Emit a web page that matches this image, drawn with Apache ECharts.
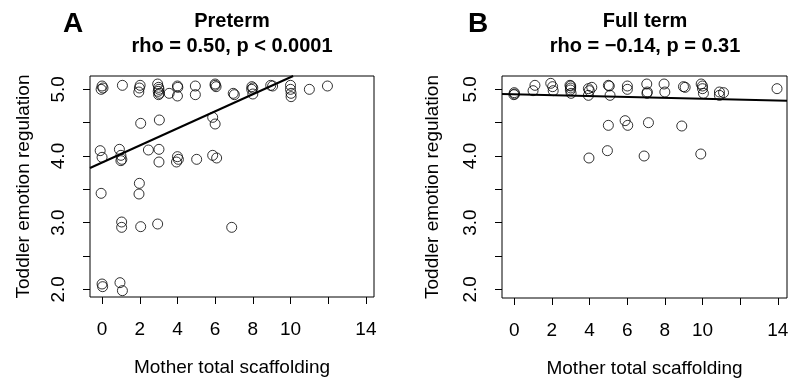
<!DOCTYPE html>
<html>
<head>
<meta charset="utf-8">
<script src="https://cdn.jsdelivr.net/npm/echarts@6/dist/echarts.min.js"></script>
<style>
html,body{margin:0;padding:0;background:#fff;}
#chart{width:800px;height:384px;}
</style>
</head>
<body>
<div id="chart"></div>
<script>
// ---- data ----
const xTicks = [0, 2, 4, 6, 8, 10, 12, 14];
const xLabels = [0, 2, 4, 6, 8, 10, 14];
const yTicks = [2, 2.5, 3, 3.5, 4, 4.5, 5];
const yLabels = [2, 3, 4, 5];

const pretermPoints = [
  [0, 5.05], [0.05, 5.02], [-0.05, 5.0], [-0.1, 4.08], [0, 3.98], [-0.05, 3.44], [0, 2.08], [0.03, 2.04],
  [1.08, 5.06], [0.92, 4.1], [1.0, 4.01], [1.05, 3.95], [1.0, 3.93], [1.04, 3.01], [1.04, 2.93], [0.95, 2.1], [1.08, 1.98],
  [2.02, 5.06], [1.98, 5.02], [1.95, 4.96], [2.05, 4.49], [2.46, 4.09], [1.98, 3.59], [1.96, 3.43], [2.05, 2.94],
  [2.95, 5.08], [3.0, 5.03], [3.02, 5.0], [2.98, 4.97], [3.04, 4.94], [3.0, 4.92], [3.04, 4.54], [3.02, 4.1], [3.02, 3.91], [2.95, 2.98],
  [3.56, 4.94],
  [4.0, 5.05], [4.02, 5.03], [4.0, 4.9], [4.0, 3.99], [4.05, 3.95], [3.95, 3.91],
  [4.95, 5.05], [4.95, 4.92], [5.02, 3.95],
  [6.0, 5.08], [6.0, 5.06], [6.05, 5.04], [5.87, 4.58], [6.0, 4.48], [5.87, 4.01], [6.08, 3.97],
  [6.96, 4.94], [7.02, 4.92], [6.88, 2.93],
  [7.95, 5.04], [8.0, 5.02], [7.94, 5.0], [8.0, 4.93],
  [8.95, 5.06], [9.05, 5.05],
  [10.0, 5.06], [10.0, 5.0], [10.03, 4.94], [10.03, 4.89],
  [11.0, 5.0], [11.96, 5.05]
];
const pretermLine = [[-0.64, 3.82], [10.14, 5.2]];

const fulltermPoints = [
  [0, 4.95], [0.02, 4.93], [-0.02, 4.92],
  [1.0, 4.98], [1.1, 5.06],
  [1.94, 5.09], [2.04, 5.04], [2.07, 4.98],
  [2.96, 5.06], [3.0, 5.05], [2.98, 4.99], [3.02, 4.94], [3.0, 5.02],
  [3.94, 5.01], [3.99, 4.98], [3.94, 4.91], [4.12, 5.03],
  [5.0, 5.06], [5.05, 5.05], [5.09, 4.91],
  [6.01, 5.05], [6.01, 5.0],
  [7.04, 5.08], [7.07, 4.96], [7.05, 4.94],
  [7.96, 5.08], [8.0, 4.96],
  [8.99, 5.04], [9.08, 5.03],
  [9.93, 5.08], [10.0, 5.05], [10.05, 4.94], [10.0, 5.01],
  [10.9, 4.96], [11.12, 4.95], [10.9, 4.91],
  [13.96, 5.01],
  [5.0, 4.46], [5.89, 4.53], [6.03, 4.46], [7.13, 4.5], [8.9, 4.45],
  [4.95, 4.08], [3.97, 3.97], [6.9, 4.0], [9.91, 4.03]
];
const fulltermLine = [[-0.65, 4.93], [14.49, 4.83]];

const panelTitles = ['Preterm', 'Full term'];
const panelStats = ['rho = 0.50, p < 0.0001', 'rho = \u22120.14, p = 0.31'];
const panelLetters = ['A', 'B'];
const xName = 'Mother total scaffolding';
const yName = 'Toddler emotion regulation';

// ---- chart ----
const FONT = 'Liberation Sans, Arial, sans-serif';
const chart = echarts.init(document.getElementById('chart'), null, {renderer: 'canvas'});

function xAxis(gridIndex, min, max) {
  return {
    type: 'value', gridIndex, min, max, position: 'bottom',
    name: xName, nameLocation: 'middle', nameGap: 61,
    nameTextStyle: {fontSize: 19, color: '#000', fontFamily: FONT},
    axisLine: {show: false, onZero: false},
    axisTick: {show: true, inside: false, length: 7, customValues: xTicks, lineStyle: {color: '#000', width: 1}},
    axisLabel: {show: true, customValues: xLabels, fontSize: 19, color: '#000', fontFamily: FONT, margin: 23},
    splitLine: {show: false}
  };
}
function yAxis(gridIndex, min, max, gap) {
  return {
    type: 'value', gridIndex, min, max, position: 'left',
    name: yName, nameLocation: 'middle', nameGap: gap, nameRotate: 90,
    nameTextStyle: {fontSize: 19, color: '#000', fontFamily: FONT},
    axisLine: {show: false, onZero: false},
    axisTick: {show: true, inside: false, length: 7, customValues: yTicks, lineStyle: {color: '#000', width: 1}},
    axisLabel: {show: true, customValues: yLabels, rotate: 90, fontSize: 19, color: '#000', fontFamily: FONT, margin: 22,
      formatter: v => Number(v).toFixed(1)},
    splitLine: {show: false}
  };
}
const scatterStyle = {color: 'rgba(0,0,0,0)', borderColor: '#000', borderWidth: 1};

const option = {
  animation: false,
  backgroundColor: '#fff',
  grid: [
    {left: 90, top: 76, width: 284, height: 221, show: true, borderColor: '#000', borderWidth: 1, backgroundColor: 'transparent'},
    {left: 502, top: 76, width: 285, height: 222, show: true, borderColor: '#000', borderWidth: 1, backgroundColor: 'transparent'}
  ],
  xAxis: [xAxis(0, -0.64, 14.43), xAxis(1, -0.65, 14.49)],
  yAxis: [yAxis(0, 1.885, 5.2, 57), yAxis(1, 1.87, 5.2, 60)],
  series: [
    {type: 'scatter', xAxisIndex: 0, yAxisIndex: 0, data: pretermPoints, symbol: 'circle', symbolSize: 10, itemStyle: scatterStyle, z: 2},
    {type: 'line', xAxisIndex: 0, yAxisIndex: 0, data: pretermLine, showSymbol: false, clip: true, lineStyle: {color: '#000', width: 2}, z: 3},
    {type: 'scatter', xAxisIndex: 1, yAxisIndex: 1, data: fulltermPoints, symbol: 'circle', symbolSize: 10, itemStyle: scatterStyle, z: 2},
    {type: 'line', xAxisIndex: 1, yAxisIndex: 1, data: fulltermLine, showSymbol: false, clip: true, lineStyle: {color: '#000', width: 2}, z: 3}
  ],
  graphic: [
    {type: 'text', left: 63, top: 10, style: {text: panelLetters[0], font: 'bold 28px ' + FONT, fill: '#000'}},
    {type: 'text', left: 468, top: 10, style: {text: panelLetters[1], font: 'bold 28px ' + FONT, fill: '#000'}},
    {type: 'text', x: 232, y: 21, style: {text: panelTitles[0], font: 'bold 20px ' + FONT, fill: '#000', align: 'center', verticalAlign: 'middle'}},
    {type: 'text', x: 232, y: 46, style: {text: panelStats[0], font: 'bold 20px ' + FONT, fill: '#000', align: 'center', verticalAlign: 'middle'}},
    {type: 'text', x: 645, y: 21, style: {text: panelTitles[1], font: 'bold 20px ' + FONT, fill: '#000', align: 'center', verticalAlign: 'middle'}},
    {type: 'text', x: 645, y: 46, style: {text: panelStats[1], font: 'bold 20px ' + FONT, fill: '#000', align: 'center', verticalAlign: 'middle'}}
  ]
};
chart.setOption(option);
</script>
</body>
</html>
